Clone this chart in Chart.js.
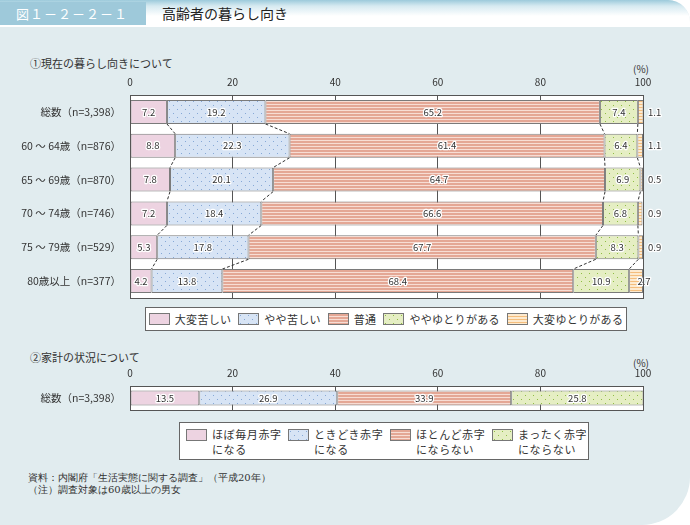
<!DOCTYPE html>
<html lang="ja">
<head>
<meta charset="UTF-8">
<title>高齢者の暮らし向き</title>
<script src="https://cdn.jsdelivr.net/npm/chart.js"></script>
<style>
  body { margin: 0; background: #fff; font-family: 'Noto Sans CJK JP', sans-serif; color: #333; }
  .panel { position: absolute; left: 0; top: 0; width: 690px; height: 525px; background: #e1ecef;
           border-radius: 0 22px 48px 0; overflow: hidden; }
  .header { position: absolute; left: 0; top: 0; width: 690px; height: 27px;
            background: linear-gradient(#9ccadb 0px, #d6eaf1 6px, #fff 16px); border-top-right-radius: 22px; }
  .fig { position: absolute; left: 0; top: 2px; width: 146px; height: 23px; background: #9ec9da;
         color: #fff; font-size: 13px; line-height: 23px; padding-left: 16px; box-sizing: border-box; letter-spacing: 1px; }
  .title { position: absolute; left: 162px; top: 2px; font-size: 14px; line-height: 23px; color: #222; }
  .txt { position: absolute; white-space: nowrap; }
  .sec { font-size: 11px; left: 30px; }
  .pct { font-size: 10px; }
  canvas { position: absolute; left: 0; }
  .legend { position: absolute; background: #fff; border: 1px solid #666; box-sizing: border-box;
            display: flex; font-size: 11px; letter-spacing: 0.6px; }
  .item { display: flex; align-items: flex-start; white-space: nowrap; flex: none; }
  .sw { width: 19px; height: 10px; border: 1px solid #777; margin-right: 5px; flex: none; }
  .foot { font-family: 'DejaVu Serif', 'Liberation Serif', serif; font-size: 10px; left: 28px; }
</style>
</head>
<body>
<div class="panel"></div>
<div class="header"></div>
<div class="fig">図１－２－２－１</div>
<div class="title">高齢者の暮らし向き</div>

<div class="txt sec" style="top:55px">①現在の暮らし向きについて</div>
<div class="txt pct" style="left:633px;top:61px">(%)</div>
<canvas id="c1" width="690" height="240" style="top:60px"></canvas>
<div class="legend" id="lg1" style="left:145px;top:307px;width:482px;height:24px;align-items:center;justify-content:center;gap:7px;letter-spacing:0.3px"></div>

<div class="txt sec" style="top:349px">②家計の状況について</div>
<div class="txt pct" style="left:633px;top:355px">(%)</div>
<canvas id="c2" width="690" height="62" style="top:350px"></canvas>
<div class="legend" id="lg2" style="left:179px;top:422px;width:410px;height:38px;padding:4px 0 0 6px"></div>

<div class="txt foot" style="top:471px">資料：内閣府「生活実態に関する調査」（平成20年）</div>
<div class="txt foot" style="top:483px">（注）調査対象は60歳以上の男女</div>

<script>
  // 現在の暮らし向き
  const categories1 = ['総数（n=3,398）', '60 ～ 64歳（n=876）', '65 ～ 69歳（n=870）',
                       '70 ～ 74歳（n=746）', '75 ～ 79歳（n=529）', '80歳以上（n=377）'];
  const series1 = ['大変苦しい', 'やや苦しい', '普通', 'ややゆとりがある', '大変ゆとりがある'];
  const taihenKurushii = [7.2, 8.8, 7.8, 7.2, 5.3, 4.2];
  const yayaKurushii   = [19.2, 22.3, 20.1, 18.4, 17.8, 13.8];
  const futsuu         = [65.2, 61.4, 64.7, 66.6, 67.7, 68.4];
  const yayaYutori     = [7.4, 6.4, 6.9, 6.8, 8.3, 10.9];
  const taihenYutori   = [1.1, 1.1, 0.5, 0.9, 0.9, 2.7];

  // 家計の状況
  const categories2 = ['総数（n=3,398）'];
  const series2 = ['ほぼ毎月赤字\nになる', 'ときどき赤字\nになる', 'ほとんど赤字\nにならない', 'まったく赤字\nにならない'];
  const kakei = [[13.5], [26.9], [33.9], [25.8]];

  const xTicks = [0, 20, 40, 60, 80, 100];

  function makePattern(kind) {
    const c = document.createElement('canvas');
    const g = c.getContext('2d');
    if (kind === 'pink') {
      c.width = 2; c.height = 2; g.fillStyle = '#edd3e1'; g.fillRect(0, 0, 2, 2);
    } else if (kind === 'blue' || kind === 'green') {
      c.width = 8; c.height = 8;
      g.fillStyle = kind === 'blue' ? '#d7e4f5' : '#e5eec3';
      g.fillRect(0, 0, 8, 8);
      g.fillStyle = kind === 'blue' ? '#86a8d6' : '#8fbd44';
      g.fillRect(1, 1, 1, 1); g.fillRect(5, 5, 1, 1);
    } else if (kind === 'salmon') {
      c.width = 4; c.height = 3;
      g.fillStyle = '#e4a795'; g.fillRect(0, 0, 4, 3);
      g.fillStyle = '#f7ddd4'; g.fillRect(0, 2, 4, 1);
    } else {
      c.width = 4; c.height = 3;
      g.fillStyle = '#fdeacf'; g.fillRect(0, 0, 4, 3);
      g.fillStyle = '#f4bd7c'; g.fillRect(0, 2, 4, 1);
    }
    return { pat: document.createElement('canvas').getContext('2d').createPattern(c, 'repeat'), url: c.toDataURL() };
  }
  const kinds = ['pink', 'blue', 'salmon', 'green', 'orange'];
  const pats = kinds.map(makePattern);

  const frame = {
    id: 'frame',
    beforeDraw(chart) {
      const a = chart.chartArea, ctx = chart.ctx;
      ctx.save(); ctx.fillStyle = '#fff'; ctx.fillRect(a.left, a.top, a.right - a.left, a.bottom - a.top); ctx.restore();
    },
    afterDraw(chart) {
      const a = chart.chartArea, ctx = chart.ctx;
      ctx.save(); ctx.strokeStyle = '#555'; ctx.lineWidth = 1;
      ctx.strokeRect(Math.round(a.left) + 0.5, Math.round(a.top) + 0.5, Math.round(a.right - a.left), Math.round(a.bottom - a.top));
      ctx.restore();
    }
  };

  const connectors = {
    id: 'connectors',
    afterDatasetsDraw(chart) {
      const ctx = chart.ctx;
      const n = chart.data.datasets.length;
      ctx.save(); ctx.strokeStyle = '#333'; ctx.lineWidth = 1; ctx.setLineDash([3, 2]);
      for (let d = 0; d < n - 1; d++) {
        const bars = chart.getDatasetMeta(d).data;
        for (let i = 0; i < bars.length - 1; i++) {
          const b1 = bars[i], b2 = bars[i + 1];
          ctx.beginPath();
          ctx.moveTo(b1.x, b1.y + b1.height / 2);
          ctx.lineTo(b2.x, b2.y - b2.height / 2);
          ctx.stroke();
        }
      }
      ctx.restore();
    }
  };

  const valueLabels = {
    id: 'valueLabels',
    afterDatasetsDraw(chart) {
      const ctx = chart.ctx;
      const a = chart.chartArea;
      const n = chart.data.datasets.length;
      ctx.save();
      ctx.font = '9.5px "Noto Sans CJK JP", sans-serif';
      ctx.textBaseline = 'middle';
      ctx.lineJoin = 'round';
      chart.data.datasets.forEach((ds, d) => {
        chart.getDatasetMeta(d).data.forEach((bar, i) => {
          const v = ds.data[i];
          let x = (bar.x + bar.base) / 2;
          ctx.textAlign = 'center';
          if (d === n - 1 && n === 5) {
            if (v < 2) { x = a.right + 5; ctx.textAlign = 'left'; }
            else { x = bar.x + 1; }
          }
          const s = v.toFixed(1);
          ctx.strokeStyle = '#fff'; ctx.lineWidth = 2.5; ctx.strokeText(s, x, bar.y);
          ctx.fillStyle = '#333'; ctx.fillText(s, x, bar.y);
        });
      });
      ctx.restore();
    }
  };

  function makeChart(id, labels, datasets, axisH, barPct) {
    return new Chart(document.getElementById(id), {
      type: 'bar',
      data: { labels: labels, datasets: datasets },
      options: {
        indexAxis: 'y',
        responsive: false,
        animation: false,
        layout: { padding: { left: 0, right: 47, top: 0, bottom: 2 } },
        plugins: { legend: { display: false }, tooltip: { enabled: false } },
        datasets: { bar: { barPercentage: barPct, categoryPercentage: 1, borderWidth: 1, borderColor: '#7a7a7a', borderSkipped: false } },
        scales: {
          x: {
            position: 'top', stacked: true, min: 0, max: 100,
            afterBuildTicks(s) { s.ticks = xTicks.map(v => ({ value: v })); },
            afterFit(s) { s.height = axisH; s.paddingLeft = 0; s.paddingRight = 0; },
            grid: { color: '#555', drawTicks: false, lineWidth: 1 },
            border: { color: '#555' },
            ticks: { padding: 7, color: '#333', font: { size: 10, family: '"Noto Sans CJK JP", sans-serif' } }
          },
          y: {
            stacked: true,
            afterFit(s) { s.width = 130; s.paddingTop = 0; s.paddingBottom = 0; },
            grid: { display: false, drawTicks: false },
            border: { color: '#555' },
            ticks: { padding: 9, color: '#333', font: { size: 10.5, family: '"Noto Sans CJK JP", sans-serif' } }
          }
        }
      },
      plugins: [frame, connectors, valueLabels]
    });
  }

  const data1 = [taihenKurushii, yayaKurushii, futsuu, yayaYutori, taihenYutori];
  makeChart('c1', categories1,
    data1.map((arr, k) => ({ label: series1[k], data: arr, backgroundColor: pats[k].pat })), 35, 0.71);

  makeChart('c2', categories2,
    kakei.map((arr, k) => ({ label: series2[k], data: arr, backgroundColor: pats[k].pat })), 36, 0.62);

  // legends
  const lg1 = document.getElementById('lg1');
  series1.forEach((name, k) => {
    const it = document.createElement('div'); it.className = 'item'; it.style.alignItems = 'center';
    it.innerHTML = '<span class="sw" style="background-image:url(' + pats[k].url + ')"></span><span>' + name + '</span>';
    lg1.appendChild(it);
  });
  const lg2 = document.getElementById('lg2');
  series2.forEach((name, k) => {
    const it = document.createElement('div'); it.className = 'item'; it.style.width = '102px';
    it.innerHTML = '<span class="sw" style="margin-top:2px;background-image:url(' + pats[k].url + ')"></span><span style="line-height:15px">' +
      name.replace('\n', '<br>') + '</span>';
    lg2.appendChild(it);
  });
</script>
</body>
</html>
